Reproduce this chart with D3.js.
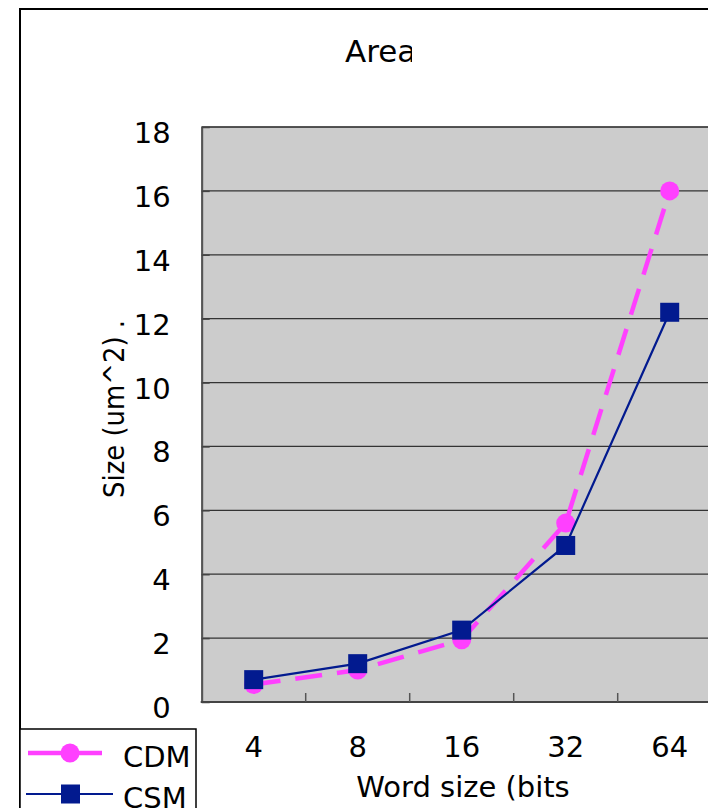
<!DOCTYPE html>
<html>
<head>
<meta charset="utf-8">
<script src="https://cdn.jsdelivr.net/npm/d3@7"></script>
<style>
  body { margin: 0; background: #fff; }
  svg { display: block; font-family: "DejaVu Sans", sans-serif; }
</style>
</head>
<body>
<script>
// Chart data
const categories = ["4", "8", "16", "32", "64"];
const cdmValues = [0.55, 1.0, 1.95, 5.6, 16.0];
const csmValues = [0.7, 1.2, 2.25, 4.9, 12.2];
const yTickValues = [0, 2, 4, 6, 8, 10, 12, 14, 16, 18];
const seriesNames = ["CDM", "CSM"];

const width = 708, height = 808;
const plotLeft = 201.7, plotRight = 721.7, plotTop = 127, plotBottom = 702;
const magenta = "#ff40ff", navy = "#021a8f";

const svg = d3.select("body").append("svg")
    .attr("width", width)
    .attr("height", height);

// Outer chart border (right and bottom edges fall outside the window)
svg.append("rect")
    .attr("x", 20).attr("y", 9)
    .attr("width", 760).attr("height", 860)
    .attr("fill", "#fff")
    .attr("stroke", "#000")
    .attr("stroke-width", 2);

// Title, clipped like the original
svg.append("clipPath").attr("id", "titleClip")
    .append("rect").attr("x", 0).attr("y", 0).attr("width", 412).attr("height", 100);
svg.append("text")
    .attr("clip-path", "url(#titleClip)")
    .attr("x", 345).attr("y", 62)
    .attr("font-size", 31)
    .text("Area");

// Scales
const x = d3.scaleBand()
    .domain(categories)
    .range([plotLeft, plotRight]);

const y = d3.scaleLinear()
    .domain([0, 18])
    .range([plotBottom, plotTop]);

// Plot background
svg.append("rect")
    .attr("x", plotLeft).attr("y", plotTop)
    .attr("width", plotRight - plotLeft).attr("height", plotBottom - plotTop)
    .attr("fill", "#cccccc")
    .attr("stroke", "#777")
    .attr("stroke-width", 1);

// Gridlines
svg.append("g")
    .selectAll("line")
    .data(yTickValues.filter(d => d > 0))
    .join("line")
    .attr("x1", plotLeft).attr("x2", plotRight)
    .attr("y1", d => y(d)).attr("y2", d => y(d))
    .attr("stroke", "#333")
    .attr("stroke-width", 1.3);

// Y axis (ticks point inward)
const yAxis = svg.append("g")
    .attr("transform", `translate(${plotLeft},0)`)
    .call(d3.axisLeft(y).tickValues(yTickValues).tickSize(-8).tickPadding(31).tickSizeOuter(0));
yAxis.select(".domain").attr("stroke", "#555").attr("stroke-width", 2);
yAxis.selectAll(".tick line").attr("stroke", "#444").attr("stroke-width", 1.5);
yAxis.selectAll("text")
    .attr("font-size", 29)
    .attr("font-family", "DejaVu Sans")
    .attr("fill", "#000")
    .attr("dy", 15.5);

// X axis: ticks between categories, pointing inward
const bounds = categories.slice(1).map(c => x(c));
const xAxis = svg.append("g")
    .attr("transform", `translate(0,${plotBottom})`);
xAxis.append("line")
    .attr("x1", plotLeft - 1).attr("x2", plotRight)
    .attr("stroke", "#444").attr("stroke-width", 2);
xAxis.selectAll(".xtick")
    .data(bounds)
    .join("line")
    .attr("class", "xtick")
    .attr("x1", d => d).attr("x2", d => d)
    .attr("y1", 0).attr("y2", -9)
    .attr("stroke", "#555").attr("stroke-width", 1.5);
xAxis.selectAll(".xlabel")
    .data(categories)
    .join("text")
    .attr("class", "xlabel")
    .attr("x", d => x(d) + x.bandwidth() / 2)
    .attr("y", 55)
    .attr("text-anchor", "middle")
    .attr("font-size", 29)
    .text(d => d);

// Axis titles
svg.append("text")
    .attr("x", 463).attr("y", 797)
    .attr("text-anchor", "middle")
    .attr("font-size", 29)
    .text("Word size (bits");

svg.append("text")
    .attr("transform", "translate(124,409) rotate(-90)")
    .attr("text-anchor", "middle")
    .attr("font-size", 29)
    .attr("textLength", 178)
    .attr("lengthAdjust", "spacingAndGlyphs")
    .text("Size (um^2) .");

// Lines
const cx = (d, i) => x(categories[i]) + x.bandwidth() / 2;
const line = d3.line().x(cx).y(d => y(d));

svg.append("path")
    .datum(cdmValues)
    .attr("fill", "none")
    .attr("stroke", magenta)
    .attr("stroke-width", 4.5)
    .attr("stroke-dasharray", "27,15")
    .attr("d", line);

svg.append("g")
    .selectAll("circle")
    .data(cdmValues)
    .join("circle")
    .attr("cx", cx)
    .attr("cy", d => y(d))
    .attr("r", 9.5)
    .attr("fill", magenta);

svg.append("path")
    .datum(csmValues)
    .attr("fill", "none")
    .attr("stroke", navy)
    .attr("stroke-width", 2.2)
    .attr("d", line);

const sq = 19;
svg.append("g")
    .selectAll("rect")
    .data(csmValues)
    .join("rect")
    .attr("x", (d, i) => cx(d, i) - sq / 2)
    .attr("y", d => y(d) - sq / 2)
    .attr("width", sq).attr("height", sq)
    .attr("fill", navy);

// Legend
const legend = svg.append("g");
legend.append("rect")
    .attr("x", 20).attr("y", 729)
    .attr("width", 176).attr("height", 120)
    .attr("fill", "#fff")
    .attr("stroke", "#000")
    .attr("stroke-width", 1.5);

const legendRows = [
    { name: seriesNames[0], y: 753, color: magenta, x1: 28, x2: 102, w: 4.5, marker: "circle" },
    { name: seriesNames[1], y: 794, color: navy, x1: 26, x2: 113, w: 2.2, marker: "square" }
];
legendRows.forEach(r => {
    legend.append("line")
        .attr("x1", r.x1).attr("x2", r.x2)
        .attr("y1", r.y).attr("y2", r.y)
        .attr("stroke", r.color).attr("stroke-width", r.w);
    if (r.marker === "circle") {
        legend.append("circle").attr("cx", 70).attr("cy", r.y).attr("r", 9.5).attr("fill", r.color);
    } else {
        legend.append("rect").attr("x", 70.5 - sq / 2).attr("y", r.y - sq / 2)
            .attr("width", sq).attr("height", sq).attr("fill", r.color);
    }
    legend.append("text")
        .attr("x", 123).attr("y", r.y + 14)
        .attr("font-size", 29)
        .text(r.name);
});
</script>
</body>
</html>
